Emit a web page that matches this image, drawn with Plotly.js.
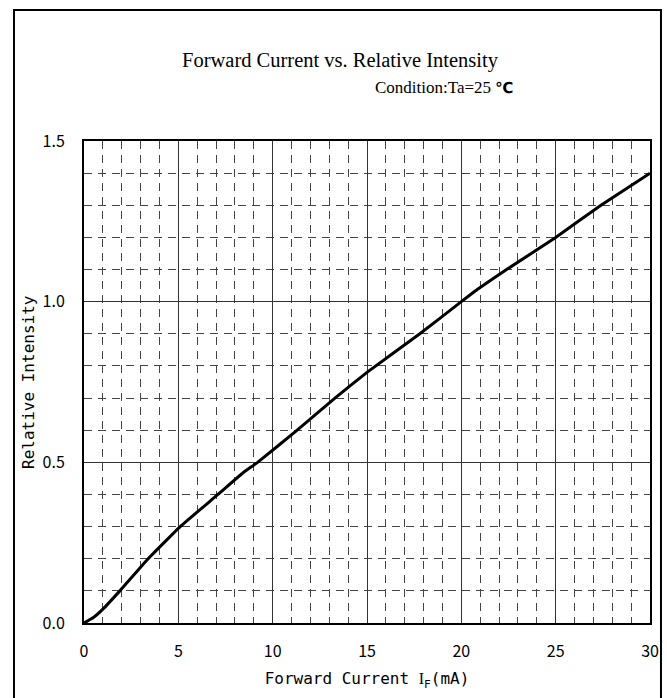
<!DOCTYPE html>
<html>
<head>
<meta charset="utf-8">
<script src="https://cdn.plot.ly/plotly-3.0.1.min.js"></script>
<style>
  html, body { margin: 0; padding: 0; background: #fff; }
  #chart { width: 667px; height: 698px; }
</style>
</head>
<body>
<div id="chart"></div>
<script>
// Forward current (mA) and the relative luminous intensity it produces
const forwardCurrent = [0, 0.5, 1, 1.9, 3.4, 5.1, 7.1, 8.4, 9.2, 11.3, 13.3, 15, 17.8, 20, 20.9, 22.4, 25, 27.4, 30];
const relativeIntensity = [0, 0.017, 0.043, 0.1, 0.2, 0.3, 0.4, 0.466, 0.5, 0.6, 0.7, 0.78, 0.9, 1.0, 1.04, 1.1, 1.2, 1.3, 1.4];

const xTickValues = [0, 5, 10, 15, 20, 25, 30];
const xTickLabels = ['0', '5', '10', '15', '20', '25', '30'];
const yTickValues = [0, 0.5, 1.0, 1.5];
const yTickLabels = ['0.0', '0.5', '1.0', '1.5'];

const chartTitle = 'Forward Current vs. Relative Intensity';
const conditionText = 'Condition:Ta=25 <span style="font-family:\'DejaVu Sans\';font-weight:bold;font-size:15px">℃</span>';
const xTitle = 'Forward Current <span style="font-family:\'Liberation Serif\'">I</span><sub>F</sub>(mA)';
const yTitle = 'Relative Intensity';

const tickFont = { family: 'Noto Sans CJK JP, DejaVu Sans, sans-serif', size: 16, color: '#000' };
const axisTitleFont = { family: 'DejaVu Sans Mono, monospace', size: 16, color: '#000' };

const trace = {
  x: forwardCurrent,
  y: relativeIntensity,
  type: 'scatter',
  mode: 'lines',
  line: { color: '#000', width: 3, shape: 'spline', smoothing: 0.3 },
  hoverinfo: 'skip',
  showlegend: false
};

const layout = {
  width: 667,
  height: 698,
  paper_bgcolor: '#fff',
  plot_bgcolor: '#fff',
  margin: { l: 84, r: 17, t: 141, b: 75 },
  showlegend: false,
  xaxis: {
    range: [0, 30],
    tickvals: xTickValues,
    ticktext: xTickLabels,
    ticks: 'outside', ticklen: 0,
    ticklabelstandoff: 13,
    tickfont: tickFont,
    showgrid: true, gridcolor: '#333', gridwidth: 1,
    minor: { dtick: 1, showgrid: true, gridcolor: '#444', gridwidth: 1, griddash: '8px,6px', ticks: '' },
    showline: true, linecolor: '#000', linewidth: 2, mirror: true,
    zeroline: false, fixedrange: true,
    title: { text: xTitle, font: axisTitleFont, standoff: 12 }
  },
  yaxis: {
    range: [0, 1.5],
    tickvals: yTickValues,
    ticktext: yTickLabels,
    ticks: 'outside', ticklen: 0,
    ticklabelstandoff: 14,
    tickfont: tickFont,
    showgrid: true, gridcolor: '#333', gridwidth: 1,
    minor: { dtick: 0.1, showgrid: true, gridcolor: '#444', gridwidth: 1, griddash: '8px,6px', ticks: '' },
    showline: true, linecolor: '#000', linewidth: 2, mirror: true,
    zeroline: false, fixedrange: true,
    title: { text: '' }
  },
  annotations: [
    {
      text: chartTitle, xref: 'paper', yref: 'paper',
      x: 0.453, y: 1.167, xanchor: 'center', yanchor: 'middle', showarrow: false,
      font: { family: 'Liberation Serif, serif', size: 20.5, color: '#000' }
    },
    {
      text: conditionText, xref: 'paper', yref: 'paper',
      x: 0.511, y: 1.112, xanchor: 'left', yanchor: 'middle', showarrow: false,
      font: { family: 'Liberation Serif, serif', size: 17, color: '#000' }
    },
    {
      // y-axis title, placed by hand between the frame and the tick labels
      text: yTitle, xref: 'paper', yref: 'paper',
      x: -0.099, y: 0.5, xanchor: 'center', yanchor: 'middle', textangle: -90, showarrow: false,
      font: axisTitleFont
    }
  ],
  shapes: [
    // outer frame around the whole figure
    {
      type: 'rect', xref: 'paper', yref: 'paper', layer: 'above',
      x0: -0.1237, x1: 1.0194, y0: -0.25, y1: 1.2718,
      line: { color: '#000', width: 2 }, fillcolor: 'rgba(0,0,0,0)'
    }
  ]
};

Plotly.newPlot('chart', [trace], layout, { displayModeBar: false, staticPlot: true });
</script>
</body>
</html>
